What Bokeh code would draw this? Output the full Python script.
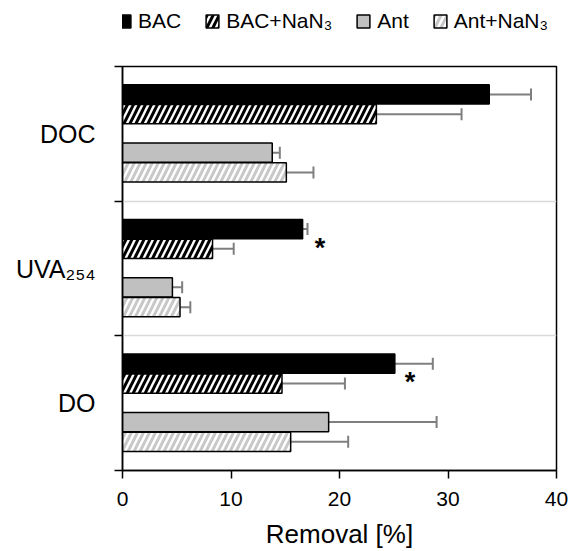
import numpy as np
from bokeh.plotting import figure
from bokeh.layouts import column
from bokeh.models import (ColumnDataSource, Whisker, TeeHead, FixedTicker,
                          Legend, LegendItem)
from bokeh.core.properties import value
from bokeh.embed import file_html
from bokeh.resources import INLINE

# ---- data ----
categories = ["DOC", "UVA₂₅₄", "DO"]          # top to bottom
series = ["BAC", "BAC+NaN₃", "Ant", "Ant+NaN₃"]
bac = [33.8, 16.6, 25.1]
bac_err = [3.85, 0.45, 3.5]
bac_nan3 = [23.4, 8.3, 14.7]
bac_nan3_err = [7.85, 1.95, 5.8]
ant = [13.8, 4.6, 19.0]
ant_err = [0.7, 0.9, 9.95]
ant_nan3 = [15.1, 5.3, 15.5]
ant_nan3_err = [2.5, 0.95, 5.3]
sig_cat = ["UVA₂₅₄", "DO"]
sig_x = [18.2, 26.5]
x_ticks = [0, 10, 20, 30, 40]

FONT = "Liberation Sans"
TOP_H = 63

# category centres on a numeric axis (top category highest)
n = len(categories)
centers = {c: n - 0.5 - i for i, c in enumerate(categories)}
cy = np.array([centers[c] for c in categories])

offsets = [0.293, 0.146, -0.140, -0.287]
bar_h = 0.143
styles = [
    dict(fill_color="black"),
    dict(fill_color="white", hatch_pattern="/", hatch_color="black",
         hatch_weight=3, hatch_scale=12),
    dict(fill_color="#c0c0c0"),
    dict(fill_color="white", hatch_pattern="/", hatch_color="#c8c8c8",
         hatch_weight=3, hatch_scale=12),
]
vals = [bac, bac_nan3, ant, ant_nan3]
errs = [bac_err, bac_nan3_err, ant_err, ant_nan3_err]

# ---- legend strip ----
lg = figure(width=573, height=TOP_H, output_backend="svg", toolbar_location=None,
            x_axis_location=None, y_axis_location=None,
            min_border_left=0, min_border_right=0, min_border_top=0,
            min_border_bottom=0, x_range=(0, 1), y_range=(0, 1))
lg.outline_line_color = None
lg.grid.visible = False

# ---- main chart ----
p = figure(width=573, height=551 - TOP_H, x_range=(0, 40), y_range=(0, n),
           output_backend="svg", toolbar_location=None,
           min_border_left=122, min_border_right=17,
           min_border_top=66 - TOP_H, min_border_bottom=79)
p.outline_line_color = "black"
p.outline_line_width = 1.5
p.xgrid.visible = False
p.ygrid.ticker = FixedTicker(ticks=[1, 2])
p.ygrid.grid_line_color = "#d9d9d9"
p.ygrid.grid_line_width = 1.5

nan = float("nan")
items = []
for name, v, e, off, st in zip(series, vals, errs, offsets, styles):
    v = np.array(v, dtype=float)
    e = np.array(e, dtype=float)
    src = ColumnDataSource(dict(y=cy + off, right=v, lo=v - e, hi=v + e))
    kw = dict(line_color="black", line_width=1.5, **st)
    p.hbar(y="y", left=0, right="right", height=bar_h, source=src, **kw)
    # legend swatch renderer in the legend strip (no drawable bar)
    r = lg.hbar(y=[nan], left=[nan], right=[nan], height=0.1, **kw)
    items.append(LegendItem(label=name, renderers=[r]))
    w = Whisker(base="y", lower="lo", upper="hi", source=src, dimension="width",
                line_color="#7f7f7f", line_width=2,
                lower_head=TeeHead(size=12, line_color="#7f7f7f", line_width=2),
                upper_head=TeeHead(size=12, line_color="#7f7f7f", line_width=2))
    p.add_layout(w)

# significance markers
p.text(x=sig_x, y=[centers[c] + 0.2 for c in sig_cat], text=["*"] * len(sig_x),
       text_font=value(FONT), text_font_size="27px", text_font_style="bold",
       text_align="center", text_baseline="middle", y_offset=6,
       text_color="black")

# x axis
xa = p.xaxis[0]
xa.ticker = FixedTicker(ticks=x_ticks)
xa.axis_label = "Removal [%]"
xa.axis_label_text_font = FONT
xa.axis_label_text_font_size = "26px"
xa.axis_label_text_font_style = "normal"
xa.axis_label_text_color = "black"
xa.axis_label_standoff = 10
xa.major_label_text_font = FONT
xa.major_label_text_font_size = "21px"
xa.major_label_text_color = "black"
xa.major_label_standoff = 13
xa.major_tick_in = 0
xa.major_tick_out = 8
xa.minor_tick_out = 0
xa.minor_tick_in = 0
xa.axis_line_width = 1.5
xa.major_tick_line_width = 1.5
xa.axis_line_color = "black"

# y axis
ya = p.yaxis[0]
ya.ticker = FixedTicker(ticks=[centers[c] for c in categories],
                        minor_ticks=list(range(n + 1)))
ya.major_label_overrides = {centers[c]: c for c in categories}
ya.major_label_text_font = FONT
ya.major_label_text_font_size = "25px"
ya.major_label_text_color = "black"
ya.major_label_standoff = 19
ya.major_tick_in = 0
ya.major_tick_out = 0
ya.minor_tick_in = 0
ya.minor_tick_out = 8
ya.minor_tick_line_width = 1.5
ya.minor_tick_line_color = "black"
ya.axis_line_width = 1.5
ya.axis_line_color = "black"

legend = Legend(items=items, orientation="horizontal",
                location=(-6, TOP_H - 33),
                glyph_width=16, glyph_height=16, label_text_font=FONT,
                label_text_font_size="21px", label_standoff=6, spacing=23,
                padding=0, margin=0, border_line_alpha=0,
                background_fill_alpha=0, label_text_color="black")
lg.add_layout(legend)

layout = column(lg, p, spacing=0)
open("out.html", "w").write(file_html(layout, INLINE))
